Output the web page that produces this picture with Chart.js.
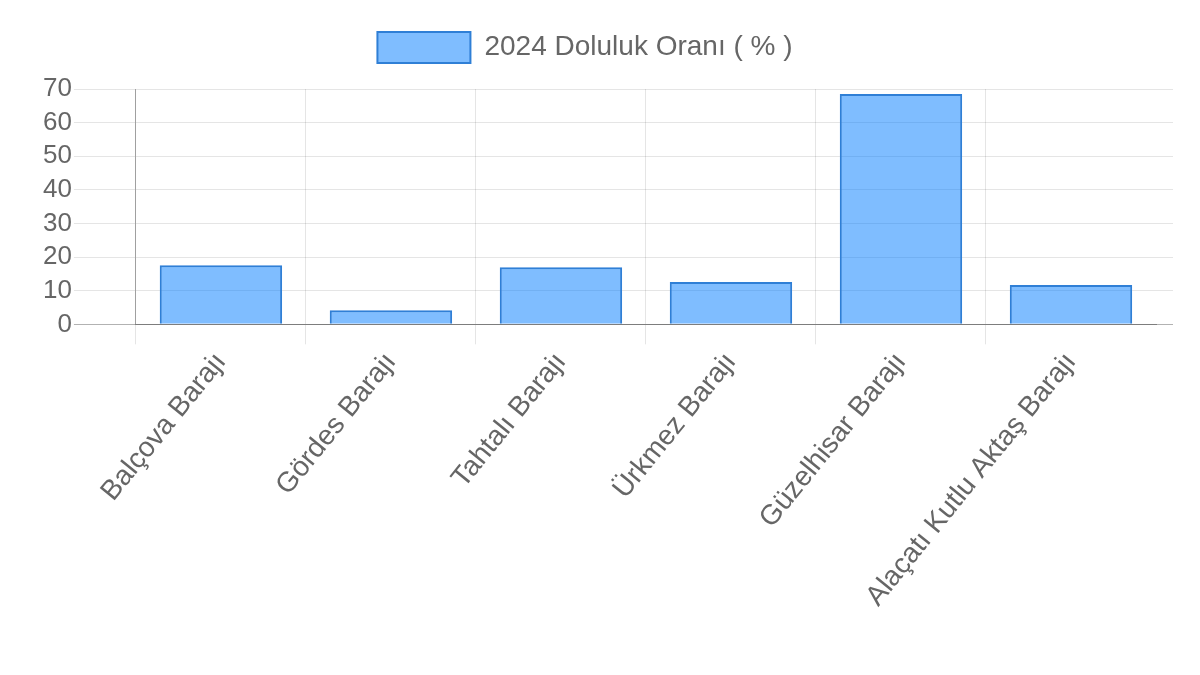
<!DOCTYPE html>
<html lang="tr">
<head>
    <meta charset="UTF-8">
    <title>Baraj Doluluk Oranları</title>
    <script src="https://cdn.jsdelivr.net/npm/chart.js@4.4.0/dist/chart.umd.min.js"></script>
    <style>
        html, body { margin: 0; padding: 0; background: #fff; }
        .wrap { width: 1200px; height: 675px; }
    </style>
</head>
<body>
    <div class="wrap"><canvas id="barajChart"></canvas></div>
    <script>
        // Veriler
        const barajlar = ['Balçova Barajı', 'Gördes Barajı', 'Tahtalı Barajı', 'Ürkmez Barajı', 'Güzelhisar Barajı', 'Alaçatı Kutlu Aktaş Barajı'];
        const doluluk2024 = [17.6, 4.2, 17.0, 12.6, 68.5, 11.7];
        const seriAdi = '2024 Doluluk Oranı ( % )';

        Chart.defaults.font.family = 'Arial, "Liberation Sans", sans-serif';
        Chart.defaults.color = '#666';

        // legend ile grafik arasına biraz boşluk, legend biraz sola
        const legendAyar = {
            id: 'legendAyar',
            beforeInit(chart) {
                const fit = chart.legend.fit;
                chart.legend.fit = function () {
                    fit.bind(chart.legend)();
                    this.height += 16;
                };
            },
            afterLayout(chart) {
                chart.legend.left -= 22;
                chart.legend.right -= 22;
            }
        };

        const gridRengi = (c) => c.tick && c.tick.value === 0 ? 'rgba(0,0,0,0.3)' : 'rgba(0,0,0,0.1)';
        // en sağdaki dikey çizgi yok
        const dikeyRengi = (c) => c.tick ? 'rgba(0,0,0,0.1)' : 'rgba(0,0,0,0)';

        const ctx = document.getElementById('barajChart').getContext('2d');
        new Chart(ctx, {
            type: 'bar',
            data: {
                labels: barajlar,
                datasets: [{
                    label: seriAdi,
                    data: doluluk2024,
                    backgroundColor: 'rgba(0, 123, 255, 0.5)',
                    borderColor: '#2f7fd6',
                    borderWidth: 2,
                    categoryPercentage: 0.8,
                    barPercentage: 0.9
                }]
            },
            options: {
                responsive: true,
                maintainAspectRatio: false,
                animation: false,
                layout: { padding: { top: 22, right: 27, left: 41, bottom: 60 } },
                plugins: {
                    legend: {
                        labels: {
                            boxWidth: 93,
                            boxHeight: 31,
                            font: { size: 28 },
                            padding: 10
                        }
                    },
                    tooltip: { enabled: false }
                },
                scales: {
                    x: {
                        grid: {
                            color: dikeyRengi,
                            tickLength: 20
                        },
                        border: { color: 'rgba(0,0,0,0.3)' },
                        ticks: {
                            font: { size: 28 },
                            minRotation: 51,
                            maxRotation: 51,
                            autoSkip: false,
                            padding: 2
                        }
                    },
                    y: {
                        min: 0,
                        max: 70,
                        grid: {
                            color: gridRengi,
                            tickLength: 62
                        },
                        border: { color: 'rgba(0,0,0,0.3)' },
                        ticks: {
                            stepSize: 10,
                            autoSkip: false,
                            font: { size: 26 },
                            padding: 2
                        }
                    },
                    // sağda yatay çizgilerin biraz taşması için
                    ySag: {
                        position: 'right',
                        min: 0,
                        max: 70,
                        grid: {
                            color: gridRengi,
                            drawOnChartArea: false,
                            tickLength: 17
                        },
                        border: { display: false },
                        ticks: { display: false, stepSize: 10 }
                    }
                }
            },
            plugins: [legendAyar]
        });
    </script>
</body>
</html>
